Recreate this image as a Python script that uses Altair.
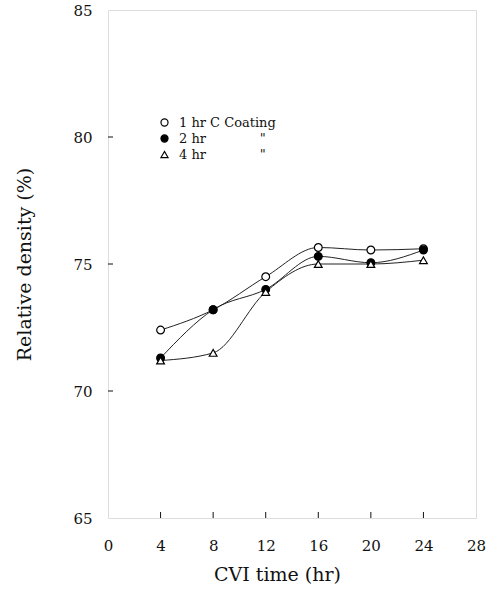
import altair as alt
import pandas as pd

times = [4, 8, 12, 16, 20, 24]
hr1 = [72.4, 73.2, 74.5, 75.65, 75.55, 75.6]
hr2 = [71.3, 73.2, 74.0, 75.3, 75.05, 75.55]
hr4 = [71.2, 71.5, 73.9, 75.0, 75.0, 75.15]
NB = "\u00a0"
series_labels = ["1 hr C Coating", "2 hr" + NB * 13 + "\"", "4 hr" + NB * 13 + "\""]
x_ticks = [0, 4, 8, 12, 16, 20, 24, 28]
y_ticks = [65, 70, 75, 80, 85]
x_inner_ticks = [4, 8, 12, 16, 20, 24]
y_inner_ticks = [70, 75, 80]

rows = []
for lab, vals in zip(series_labels, [hr1, hr2, hr4]):
    for t, v in zip(times, vals):
        rows.append({"time": t, "density": v, "series": lab})
df = pd.DataFrame(rows)

FONT = "DejaVu Serif"
INK = "#111"

x_scale = alt.Scale(domain=[0, 28], nice=False)
y_scale = alt.Scale(domain=[65, 85], nice=False)

x_enc = alt.X("time:Q", scale=x_scale,
              axis=alt.Axis(values=x_ticks, title="CVI time (hr)", ticks=False, labelFlush=False,
                            domain=False, grid=False, labelPadding=20, titlePadding=12,
                            labelFontSize=15, titleFontSize=19, labelFont=FONT, titleFont=FONT,
                            titleFontWeight="normal", titleX=169, labelColor=INK, titleColor=INK))
y_enc = alt.Y("density:Q", scale=y_scale,
              axis=alt.Axis(values=y_ticks, title="Relative density (%)", ticks=False, labelFlush=False,
                            domain=False, grid=False, labelPadding=16, titlePadding=38,
                            labelFontSize=15, titleFontSize=19, labelFont=FONT, titleFont=FONT,
                            titleFontWeight="normal", labelColor=INK, titleColor=INK))

lines = alt.Chart(df).mark_line(interpolate="monotone", color="#222", strokeWidth=1).encode(
    x=x_enc, y=y_enc, detail="series:N", order="time:Q")

leg = dict(title=None, orient="none", legendX=50, legendY=106,
           labelFont=FONT, labelFontSize=13, labelColor=INK,
           symbolSize=50, symbolStrokeWidth=1.2,
           rowPadding=2, labelOffset=8)

points = alt.Chart(df).mark_point(size=60, opacity=1, strokeWidth=1.2, filled=True).encode(
    x="time:Q", y="density:Q",
    shape=alt.Shape("series:N", scale=alt.Scale(domain=series_labels, range=["circle", "circle", "triangle-up"]),
                    legend=alt.Legend(**leg)),
    fill=alt.Fill("series:N", scale=alt.Scale(domain=series_labels, range=["white", "black", "white"]),
                  legend=alt.Legend(**leg)),
    stroke=alt.Stroke("series:N", scale=alt.Scale(domain=series_labels, range=["black", "black", "black"]),
                      legend=alt.Legend(**leg)),
)

xt = pd.DataFrame({"t": x_inner_ticks})
yt = pd.DataFrame({"v": y_inner_ticks})
x_tick_marks = alt.Chart(xt).mark_rule(color=INK, strokeWidth=1).encode(
    x=alt.X("t:Q", scale=x_scale), y=alt.value(508), y2=alt.value(502))
y_tick_marks = alt.Chart(yt).mark_rule(color=INK, strokeWidth=1).encode(
    y=alt.Y("v:Q", scale=y_scale), x=alt.value(0), x2=alt.value(5))

chart = alt.layer(lines, x_tick_marks, y_tick_marks, points).properties(
    width=368, height=508,
    autosize=alt.AutoSizeParams(type="none"),
    padding={"left": 108, "top": 10, "right": 24, "bottom": 77},
).configure_view(stroke=INK, strokeWidth=1.2).configure(background="white")

chart.save("out.html", embed_options={"renderer": "svg", "actions": False})
